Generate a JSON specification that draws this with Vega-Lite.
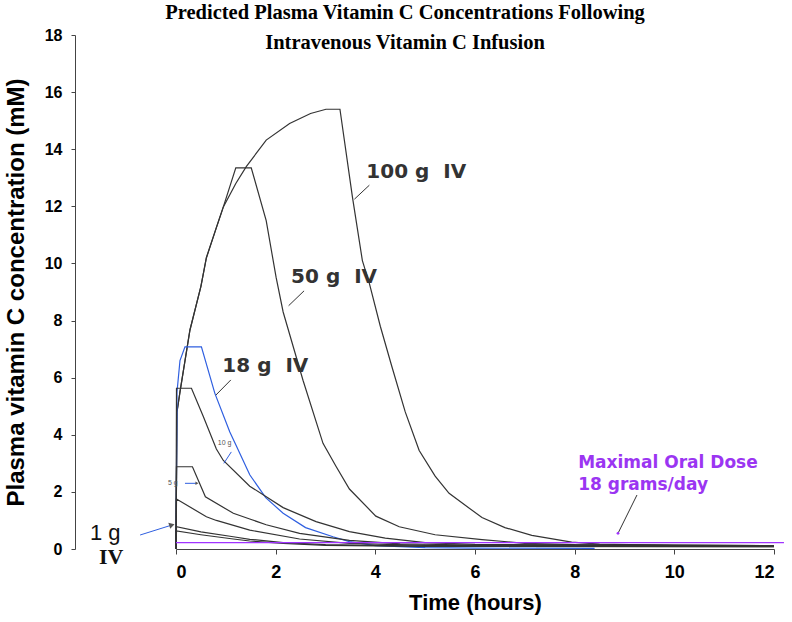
{
  "$schema": "https://vega.github.io/schema/vega-lite/v6.json",
  "autosize": "none",
  "width": 598,
  "height": 514,
  "padding": {"left": 176, "top": 35, "right": 18, "bottom": 73},
  "background": "white",
  "title": {
    "text": ["Predicted Plasma Vitamin C Concentrations Following", "Intravenous Vitamin C Infusion"],
    "font": "Liberation Serif",
    "fontSize": 20.5,
    "fontWeight": "bold",
    "color": "black",
    "anchor": "middle",
    "frame": "group",
    "baseline": "top",
    "offset": 0,
    "dy": 26,
    "dx": -70,
    "lineHeight": 30
  },
  "config": {
    "view": {"stroke": null},
    "axis": {"grid": false, "domainColor": "#444", "tickColor": "#444", "labelFont": "Liberation Sans", "labelFontWeight": "bold", "labelColor": "black", "titleFont": "Liberation Sans", "titleFontWeight": "bold", "titleColor": "black"}
  },
  "datasets": {
    "curves": [
      {"series": "100 g", "t": 0, "c": 0}, {"series": "100 g", "t": 0.02, "c": 4.8}, {"series": "100 g", "t": 0.08, "c": 5.5}, {"series": "100 g", "t": 0.28, "c": 7.67}, {"series": "100 g", "t": 0.5, "c": 9.2}, {"series": "100 g", "t": 0.61, "c": 10.2}, {"series": "100 g", "t": 0.8, "c": 11.2}, {"series": "100 g", "t": 0.95, "c": 11.98}, {"series": "100 g", "t": 1.2, "c": 12.8}, {"series": "100 g", "t": 1.41, "c": 13.39}, {"series": "100 g", "t": 1.81, "c": 14.32}, {"series": "100 g", "t": 2.28, "c": 14.9}, {"series": "100 g", "t": 2.7, "c": 15.25}, {"series": "100 g", "t": 3.01, "c": 15.4}, {"series": "100 g", "t": 3.29, "c": 15.4}, {"series": "100 g", "t": 3.54, "c": 12.33}, {"series": "100 g", "t": 3.74, "c": 10.1}, {"series": "100 g", "t": 3.88, "c": 9.3}, {"series": "100 g", "t": 4.1, "c": 7.8}, {"series": "100 g", "t": 4.33, "c": 6.4}, {"series": "100 g", "t": 4.6, "c": 4.8}, {"series": "100 g", "t": 4.88, "c": 3.45}, {"series": "100 g", "t": 5.2, "c": 2.55}, {"series": "100 g", "t": 5.48, "c": 1.95}, {"series": "100 g", "t": 6.14, "c": 1.1}, {"series": "100 g", "t": 6.6, "c": 0.75}, {"series": "100 g", "t": 7.14, "c": 0.48}, {"series": "100 g", "t": 7.94, "c": 0.24}, {"series": "100 g", "t": 8.5, "c": 0.17}, {"series": "100 g", "t": 10, "c": 0.13}, {"series": "100 g", "t": 12, "c": 0.12},
      {"series": "50 g", "t": 0, "c": 0}, {"series": "50 g", "t": 0.02, "c": 4.8}, {"series": "50 g", "t": 0.08, "c": 5.5}, {"series": "50 g", "t": 0.28, "c": 7.67}, {"series": "50 g", "t": 0.5, "c": 9.2}, {"series": "50 g", "t": 0.61, "c": 10.2}, {"series": "50 g", "t": 0.8, "c": 11.2}, {"series": "50 g", "t": 0.95, "c": 11.98}, {"series": "50 g", "t": 1.2, "c": 13.35}, {"series": "50 g", "t": 1.51, "c": 13.35}, {"series": "50 g", "t": 1.81, "c": 11.5}, {"series": "50 g", "t": 2.01, "c": 9.5}, {"series": "50 g", "t": 2.15, "c": 8.3}, {"series": "50 g", "t": 2.55, "c": 5.9}, {"series": "50 g", "t": 2.95, "c": 3.7}, {"series": "50 g", "t": 3.21, "c": 2.9}, {"series": "50 g", "t": 3.48, "c": 2.1}, {"series": "50 g", "t": 4.01, "c": 1.15}, {"series": "50 g", "t": 4.48, "c": 0.78}, {"series": "50 g", "t": 5.2, "c": 0.5}, {"series": "50 g", "t": 6.14, "c": 0.33}, {"series": "50 g", "t": 7, "c": 0.2}, {"series": "50 g", "t": 8, "c": 0.15}, {"series": "50 g", "t": 12, "c": 0.12},
      {"series": "18 g", "t": 0, "c": 0}, {"series": "18 g", "t": 0.02, "c": 5.5}, {"series": "18 g", "t": 0.08, "c": 6.6}, {"series": "18 g", "t": 0.18, "c": 7.08}, {"series": "18 g", "t": 0.51, "c": 7.08}, {"series": "18 g", "t": 0.78, "c": 5.45}, {"series": "18 g", "t": 1.08, "c": 4.1}, {"series": "18 g", "t": 1.2, "c": 3.65}, {"series": "18 g", "t": 1.48, "c": 2.6}, {"series": "18 g", "t": 1.8, "c": 1.8}, {"series": "18 g", "t": 2.15, "c": 1.25}, {"series": "18 g", "t": 2.6, "c": 0.75}, {"series": "18 g", "t": 3.15, "c": 0.43}, {"series": "18 g", "t": 3.48, "c": 0.26}, {"series": "18 g", "t": 4, "c": 0.12}, {"series": "18 g", "t": 5, "c": 0.05}, {"series": "18 g", "t": 6, "c": 0.03}, {"series": "18 g", "t": 8.4, "c": 0.02},
      {"series": "10 g", "t": 0, "c": 0}, {"series": "10 g", "t": 0.01, "c": 5.63}, {"series": "10 g", "t": 0.31, "c": 5.63}, {"series": "10 g", "t": 0.55, "c": 4.63}, {"series": "10 g", "t": 0.81, "c": 3.5}, {"series": "10 g", "t": 0.95, "c": 3.1}, {"series": "10 g", "t": 1.48, "c": 2.2}, {"series": "10 g", "t": 2.15, "c": 1.45}, {"series": "10 g", "t": 2.81, "c": 0.96}, {"series": "10 g", "t": 3.48, "c": 0.61}, {"series": "10 g", "t": 4.2, "c": 0.38}, {"series": "10 g", "t": 5, "c": 0.22}, {"series": "10 g", "t": 6, "c": 0.16}, {"series": "10 g", "t": 12, "c": 0.12},
      {"series": "5 g", "t": 0, "c": 0}, {"series": "5 g", "t": 0.01, "c": 2.88}, {"series": "5 g", "t": 0.33, "c": 2.88}, {"series": "5 g", "t": 0.59, "c": 1.83}, {"series": "5 g", "t": 1.15, "c": 1.25}, {"series": "5 g", "t": 1.48, "c": 1.05}, {"series": "5 g", "t": 1.81, "c": 0.85}, {"series": "5 g", "t": 2.48, "c": 0.55}, {"series": "5 g", "t": 3.48, "c": 0.3}, {"series": "5 g", "t": 4.5, "c": 0.18}, {"series": "5 g", "t": 6, "c": 0.14}, {"series": "5 g", "t": 12, "c": 0.11},
      {"series": "3 g", "t": 0, "c": 0}, {"series": "3 g", "t": 0.01, "c": 1.75}, {"series": "3 g", "t": 0.61, "c": 1.13}, {"series": "3 g", "t": 0.81, "c": 1.0}, {"series": "3 g", "t": 1.48, "c": 0.66}, {"series": "3 g", "t": 2.48, "c": 0.35}, {"series": "3 g", "t": 3.48, "c": 0.2}, {"series": "3 g", "t": 5, "c": 0.13}, {"series": "3 g", "t": 12, "c": 0.1},
      {"series": "1 g", "t": 0, "c": 0}, {"series": "1 g", "t": 0.01, "c": 0.78}, {"series": "1 g", "t": 0.5, "c": 0.6}, {"series": "1 g", "t": 1.15, "c": 0.43}, {"series": "1 g", "t": 1.48, "c": 0.34}, {"series": "1 g", "t": 2.15, "c": 0.22}, {"series": "1 g", "t": 3, "c": 0.15}, {"series": "1 g", "t": 5, "c": 0.1}, {"series": "1 g", "t": 12, "c": 0.08},
      {"series": "0.75 g", "t": 0, "c": 0}, {"series": "0.75 g", "t": 0.01, "c": 0.63}, {"series": "0.75 g", "t": 0.5, "c": 0.5}, {"series": "0.75 g", "t": 1.15, "c": 0.35}, {"series": "0.75 g", "t": 1.48, "c": 0.28}, {"series": "0.75 g", "t": 2.15, "c": 0.2}, {"series": "0.75 g", "t": 3, "c": 0.13}, {"series": "0.75 g", "t": 5, "c": 0.09}, {"series": "0.75 g", "t": 12, "c": 0.08},
      {"series": "Oral", "t": 0, "c": 0.22}, {"series": "Oral", "t": 12.2, "c": 0.22}
    ],
    "leaders": [
      {"grp": "black", "t": 3.88, "c": 12.74, "t2": 3.58, "c2": 12.25},
      {"grp": "black", "t": 2.57, "c": 9.04, "t2": 2.26, "c2": 8.52},
      {"grp": "blue", "t": 1.1, "c": 5.92, "t2": 0.8, "c2": 5.39},
      {"grp": "gray", "t": 1.11, "c": 3.4, "t2": 0.96, "c2": 3.0},
      {"grp": "gray", "t": 0.18, "c": 2.3, "t2": 0.41, "c2": 2.3},
      {"grp": "gray", "t": -0.72, "c": 0.49, "t2": -0.1, "c2": 0.83},
      {"grp": "purple", "t": 9.25, "c": 1.89, "t2": 8.87, "c2": 0.55}
    ],
    "labels": [
      {"grp": "black", "t": 3.82, "c": 13.2, "label": "100 g\u00a0 IV"},
      {"grp": "black", "t": 2.31, "c": 9.53, "label": "50 g\u00a0 IV"},
      {"grp": "blue", "t": 0.93, "c": 6.41, "label": "18 g\u00a0 IV"},
      {"grp": "purple", "t": 8.07, "c": 3.02, "label": "Maximal Oral Dose"},
      {"grp": "purple", "t": 8.07, "c": 2.24, "label": "18 grams/day"}
    ],
    "small": [
      {"t": 0.84, "c": 3.7, "label": "10 g"},
      {"t": -0.16, "c": 2.3, "label": "5 g"}
    ],
    "heads": [
      {"t": -0.1, "c": 0.83, "ang": 72, "sz": 40},
      {"t": 0.41, "c": 2.3, "ang": 90, "sz": 12}
    ]
  },
  "layer": [
    {
      "data": {"name": "curves"},
      "mark": {"type": "line", "strokeWidth": 1.2, "clip": false},
      "encoding": {
        "x": {"field": "t", "type": "quantitative", "scale": {"domain": [0, 12], "nice": false}, "axis": {"values": [0, 2, 4, 6, 8, 10, 12], "title": "Time (hours)", "labelFontSize": 18, "tickSize": 5, "labelPadding": 9, "titleFontSize": 22, "titlePadding": 11}},
        "y": {"field": "c", "type": "quantitative", "scale": {"domain": [0, 18], "nice": false}, "axis": {"values": [0, 2, 4, 6, 8, 10, 12, 14, 16, 18], "title": "Plasma vitamin C concentration (mM)", "offset": 101, "labelFontSize": 16, "tickSize": 4, "labelPadding": 9, "titleFontSize": 24, "titlePadding": 16}},
        "color": {"field": "series", "type": "nominal", "legend": null, "scale": {"domain": ["100 g", "50 g", "18 g", "10 g", "5 g", "3 g", "1 g", "0.75 g", "Oral"], "range": ["#333333", "#333333", "#2f5fe0", "#333333", "#333333", "#333333", "#333333", "#333333", "#a033ff"]}},
        "order": {"field": "t", "type": "quantitative"}
      }
    },
    {
      "data": {"name": "leaders"},
      "mark": {"type": "rule", "strokeWidth": 1},
      "encoding": {
        "x": {"field": "t", "type": "quantitative"},
        "y": {"field": "c", "type": "quantitative"},
        "x2": {"field": "t2"},
        "y2": {"field": "c2"},
        "color": {"field": "grp", "type": "nominal", "legend": null, "scale": {"domain": ["black", "blue", "gray", "purple", "dark"], "range": ["#333333", "#2f5fe0", "#555555", "#a033ff", "#000000"]}}
      }
    },
    {
      "data": {"name": "heads"},
      "mark": {"type": "point", "shape": "triangle", "filled": true, "color": "#555555", "opacity": 1},
      "encoding": {
        "x": {"field": "t", "type": "quantitative"},
        "y": {"field": "c", "type": "quantitative"},
        "angle": {"field": "ang", "type": "quantitative", "scale": null},
        "size": {"field": "sz", "type": "quantitative", "scale": null}
      }
    },
    {
      "data": {"values": [{"t": 8.87, "c": 0.55}]},
      "mark": {"type": "point", "filled": true, "color": "#a033ff", "size": 8, "opacity": 1},
      "encoding": {
        "x": {"field": "t", "type": "quantitative"},
        "y": {"field": "c", "type": "quantitative"}
      }
    },
    {
      "data": {"name": "labels"},
      "transform": [{"filter": "datum.grp != 'purple'"}],
      "mark": {"type": "text", "font": "DejaVu Sans", "fontWeight": "bold", "fontSize": 20, "align": "left", "baseline": "middle"},
      "encoding": {
        "x": {"field": "t", "type": "quantitative"},
        "y": {"field": "c", "type": "quantitative"},
        "text": {"field": "label"},
        "color": {"field": "grp", "type": "nominal", "legend": null, "scale": {"domain": ["black", "blue", "gray", "purple", "dark"], "range": ["#000000", "#1f55e8", "#555555", "#9b35f2", "#000000"]}}
      }
    },
    {
      "data": {"name": "labels"},
      "transform": [{"filter": "datum.grp == 'purple'"}],
      "mark": {"type": "text", "font": "DejaVu Sans", "fontWeight": "bold", "fontSize": 17, "align": "left", "baseline": "middle", "color": "#9b35f2"},
      "encoding": {
        "x": {"field": "t", "type": "quantitative"},
        "y": {"field": "c", "type": "quantitative"},
        "text": {"field": "label"}
      }
    },
    {
      "data": {"name": "small"},
      "mark": {"type": "text", "font": "Liberation Sans", "fontSize": 7, "align": "left", "baseline": "middle", "color": "#555555"},
      "encoding": {
        "x": {"field": "t", "type": "quantitative"},
        "y": {"field": "c", "type": "quantitative"},
        "text": {"field": "label"}
      }
    },
    {
      "data": {"values": [{"t": -1.42, "c": 0.56, "label": "1 g"}]},
      "mark": {"type": "text", "font": "Liberation Sans", "fontSize": 22, "align": "center", "baseline": "middle", "color": "#111111"},
      "encoding": {
        "x": {"field": "t", "type": "quantitative"},
        "y": {"field": "c", "type": "quantitative"},
        "text": {"field": "label"}
      }
    },
    {
      "data": {"values": [{"t": -1.3, "c": -0.27, "label": "IV"}]},
      "mark": {"type": "text", "font": "Liberation Serif", "fontWeight": "bold", "fontSize": 22, "align": "center", "baseline": "middle", "color": "#111111"},
      "encoding": {
        "x": {"field": "t", "type": "quantitative"},
        "y": {"field": "c", "type": "quantitative"},
        "text": {"field": "label"}
      }
    }
  ]
}
